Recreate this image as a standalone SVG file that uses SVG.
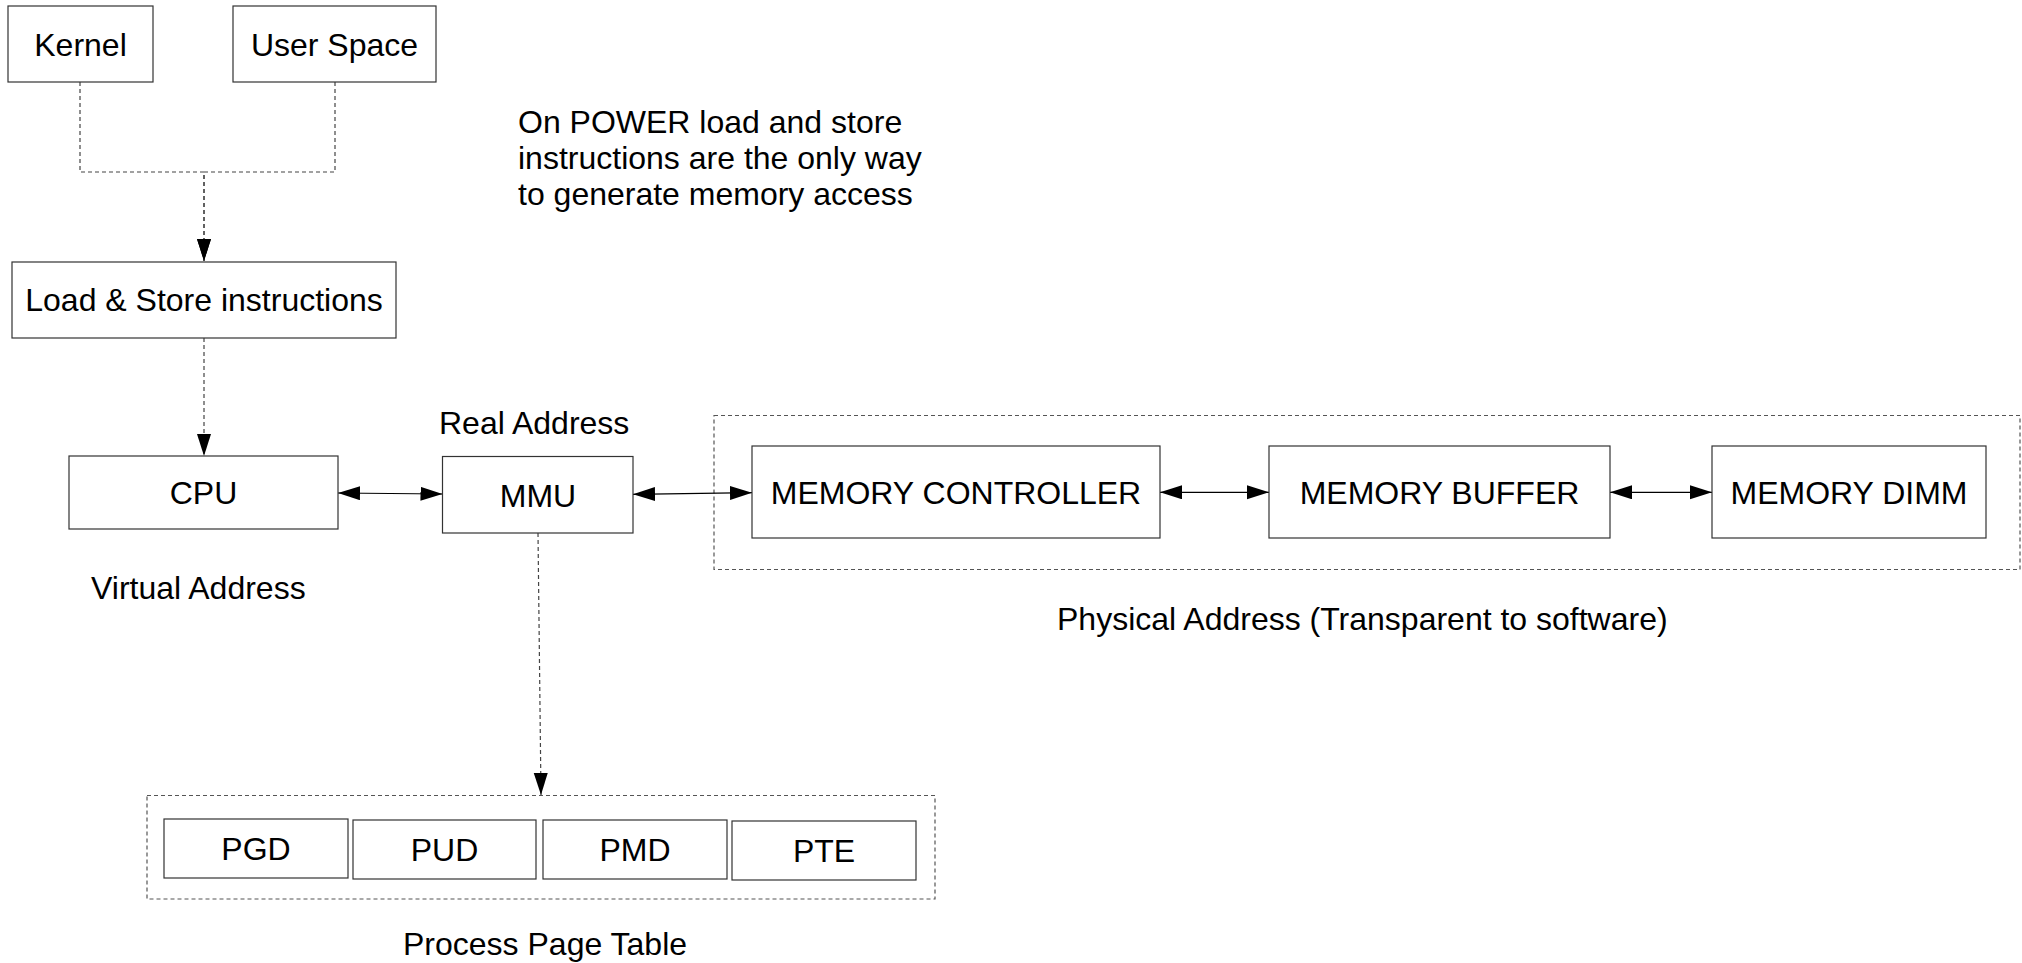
<svg xmlns="http://www.w3.org/2000/svg" width="2022" height="963" viewBox="0 0 2022 963">
<style>
  .box { fill: #ffffff; stroke: #333333; stroke-width: 1.2; }
  .group { fill: none; stroke: #555555; stroke-width: 1.2; stroke-dasharray: 4 3; }
  .t { font-family: "Liberation Sans", Arial, sans-serif; font-size: 32px; fill: #000000; }
  .c { text-anchor: middle; }
  .dash { fill: none; stroke: #444444; stroke-width: 1.2; stroke-dasharray: 4 3; }
  .solid { fill: none; stroke: #000000; stroke-width: 1.2; }
</style>
<defs>
  <marker id="arr" markerUnits="userSpaceOnUse" markerWidth="24" markerHeight="16" refX="22" refY="7" orient="auto-start-reverse">
    <path d="M0,0 L22,7 L0,14 Z" fill="#000000"/>
  </marker>
</defs>
<rect width="2022" height="963" fill="#ffffff"/>

<g id="group-physical">
  <rect class="group" x="714" y="415.5" width="1306" height="154"/>
</g>
<g id="group-pagetable">
  <rect class="group" x="147" y="795.5" width="788" height="103.5"/>
</g>

<g id="connectors">
  <path class="dash" d="M80 82 V172 H204 V261" marker-end="url(#arr)"/>
  <path class="dash" d="M335 82 V172 H204 V261" marker-end="url(#arr)"/>
  <path class="dash" d="M204 338 V456" marker-end="url(#arr)"/>
  <path class="dash" d="M538 533 L541 795" marker-end="url(#arr)"/>
  <path class="solid" d="M338 493 L442.5 494" marker-start="url(#arr)" marker-end="url(#arr)"/>
  <path class="solid" d="M633 494.3 L752 492.7" marker-start="url(#arr)" marker-end="url(#arr)"/>
  <path class="solid" d="M1160 492.3 L1269 492.3" marker-start="url(#arr)" marker-end="url(#arr)"/>
  <path class="solid" d="M1610 492.3 L1712 492.3" marker-start="url(#arr)" marker-end="url(#arr)"/>
</g>

<g id="kernel">
  <rect class="box" x="8" y="6" width="145" height="76"/>
  <text class="t c" x="80.5" y="56">Kernel</text>
</g>
<g id="user-space">
  <rect class="box" x="233" y="6" width="203" height="76"/>
  <text class="t c" x="334.5" y="56">User Space</text>
</g>
<g id="load-store">
  <rect class="box" x="12" y="262" width="384" height="76"/>
  <text class="t c" x="204" y="311">Load &amp; Store instructions</text>
</g>
<g id="cpu">
  <rect class="box" x="69" y="456" width="269" height="73"/>
  <text class="t c" x="203.5" y="504">CPU</text>
</g>
<g id="mmu">
  <rect class="box" x="442.5" y="456.5" width="190.5" height="76.5"/>
  <text class="t c" x="538" y="507">MMU</text>
</g>
<g id="memory-controller">
  <rect class="box" x="752" y="446" width="408" height="92"/>
  <text class="t c" x="956" y="504">MEMORY CONTROLLER</text>
</g>
<g id="memory-buffer">
  <rect class="box" x="1269" y="446" width="341" height="92"/>
  <text class="t c" x="1439.5" y="504">MEMORY BUFFER</text>
</g>
<g id="memory-dimm">
  <rect class="box" x="1712" y="446" width="274" height="92"/>
  <text class="t c" x="1849" y="504">MEMORY DIMM</text>
</g>
<g id="pgd">
  <rect class="box" x="164" y="819" width="184" height="59"/>
  <text class="t c" x="256" y="860">PGD</text>
</g>
<g id="pud">
  <rect class="box" x="353" y="820" width="183" height="59"/>
  <text class="t c" x="444.5" y="861">PUD</text>
</g>
<g id="pmd">
  <rect class="box" x="543" y="820" width="184" height="59"/>
  <text class="t c" x="635" y="861">PMD</text>
</g>
<g id="pte">
  <rect class="box" x="732" y="821" width="184" height="59"/>
  <text class="t c" x="824" y="862">PTE</text>
</g>

<g id="labels">
  <text class="t" x="518" y="133">On POWER load and store</text>
  <text class="t" x="518" y="169">instructions are the only way</text>
  <text class="t" x="518" y="205">to generate memory access</text>
  <text class="t" x="439" y="434">Real Address</text>
  <text class="t" x="91" y="599">Virtual Address</text>
  <text class="t" x="1057" y="630">Physical Address (Transparent to software)</text>
  <text class="t" x="403" y="955">Process Page Table</text>
</g>
</svg>
